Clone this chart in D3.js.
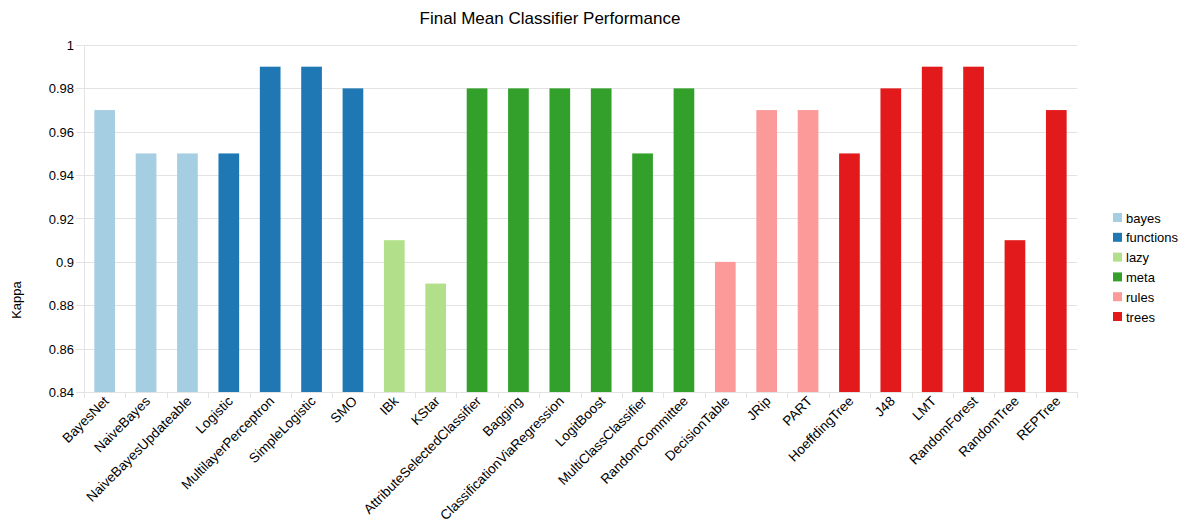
<!DOCTYPE html>
<meta charset='utf-8'>
<div class="CHART"></div>
<script src="https://d3js.org/d3.v7.min.js"></script>
<style>
	body { margin: 0; background: #fff; }
	text { font-family: "Liberation Sans", Arial, sans-serif; fill: #000; }
	.grid line { stroke: #e3e3e3; }
</style>
<script>
	var classifiers = ["BayesNet", "NaiveBayes", "NaiveBayesUpdateable", "Logistic", "MultilayerPerceptron",
		"SimpleLogistic", "SMO", "IBk", "KStar", "AttributeSelectedClassifier", "Bagging",
		"ClassificationViaRegression", "LogitBoost", "MultiClassClassifier", "RandomCommittee",
		"DecisionTable", "JRip", "PART", "HoeffdingTree", "J48", "LMT", "RandomForest", "RandomTree", "REPTree"];
	var groups = ["bayes", "bayes", "bayes", "functions", "functions", "functions", "functions", "lazy", "lazy",
		"meta", "meta", "meta", "meta", "meta", "meta", "rules", "rules", "rules",
		"trees", "trees", "trees", "trees", "trees", "trees"];
	var kappa = [0.97, 0.95, 0.95, 0.95, 0.99, 0.99, 0.98, 0.91, 0.89, 0.98, 0.98, 0.98, 0.98, 0.95, 0.98,
		0.90, 0.97, 0.97, 0.95, 0.98, 0.99, 0.99, 0.91, 0.97];
	var groupNames = ["bayes", "functions", "lazy", "meta", "rules", "trees"];
	var groupColors = ["#a6cee3", "#1f78b4", "#b2df8a", "#33a02c", "#fb9a99", "#e31a1c"];
	var yTicks = [0.84, 0.86, 0.88, 0.9, 0.92, 0.94, 0.96, 0.98, 1];

	var width = 1191, height = 532;
	var plotL = 84, plotR = 1077, plotT = 45, plotB = 392;

	var svg = d3.select(".CHART").append("svg")
		.attr("width", width)
		.attr("height", height);

	var x = d3.scaleBand().domain(classifiers).range([plotL, plotR]).paddingInner(0.5).paddingOuter(0.25);
	var xb = d3.scaleBand().domain(classifiers).range([plotL, plotR]);
	var y = d3.scaleLinear().domain([0.84, 1]).range([plotB, plotT]);
	var color = d3.scaleOrdinal().domain(groupNames).range(groupColors);

	// grid
	var grid = svg.append("g").attr("class", "grid");
	grid.selectAll(".h").data(yTicks).enter().append("line")
		.attr("x1", plotL - 8).attr("x2", plotR)
		.attr("y1", function(d) { return Math.round(y(d)) + 0.5; })
		.attr("y2", function(d) { return Math.round(y(d)) + 0.5; });
	grid.selectAll(".v").data(classifiers.concat([null])).enter().append("line")
		.attr("x1", function(d, i) { return Math.round(plotL + i * xb.bandwidth()) + 0.5; })
		.attr("x2", function(d, i) { return Math.round(plotL + i * xb.bandwidth()) + 0.5; })
		.attr("y1", function(d, i) { return i == 0 ? plotT : plotB; })
		.attr("y2", plotB + 6);

	// bars
	svg.append("g").selectAll("rect").data(kappa).enter().append("rect")
		.attr("x", function(d, i) { return x(classifiers[i]); })
		.attr("width", x.bandwidth())
		.attr("y", function(d) { return y(d); })
		.attr("height", function(d) { return y(0.84) - y(d); })
		.attr("fill", function(d, i) { return color(groups[i]); });

	// y labels
	svg.append("g").selectAll("text").data(yTicks).enter().append("text")
		.attr("x", plotL - 10)
		.attr("y", function(d) { return y(d) + 5; })
		.attr("text-anchor", "end")
		.style("font-size", "13px")
		.text(function(d) { return d3.format("")(d); });

	// x labels
	svg.append("g").selectAll("text").data(classifiers).enter().append("text")
		.attr("transform", function(d) {
			return "translate(" + (xb(d) + xb.bandwidth() / 2 + 5) + "," + (plotB + 10) + ") rotate(-45)";
		})
		.attr("text-anchor", "end")
		.style("font-size", "13.6px")
		.text(function(d) { return d; });

	svg.append("text")
		.attr("x", 550).attr("y", 24)
		.attr("text-anchor", "middle")
		.style("font-size", "17px")
		.text("Final Mean Classifier Performance");

	svg.append("text")
		.attr("transform", "translate(21,300) rotate(-90)")
		.attr("text-anchor", "middle")
		.style("font-size", "13px")
		.text("Kappa");

	// legend
	var legend = svg.append("g").selectAll("g").data(groupNames).enter().append("g")
		.attr("transform", function(d, i) { return "translate(1113," + (213 + i * 19.8) + ")"; });
	legend.append("rect").attr("width", 9).attr("height", 9)
		.attr("fill", function(d) { return color(d); });
	legend.append("text").attr("x", 13).attr("y", 9.5)
		.style("font-size", "13px")
		.text(function(d) { return d; });
</script>
